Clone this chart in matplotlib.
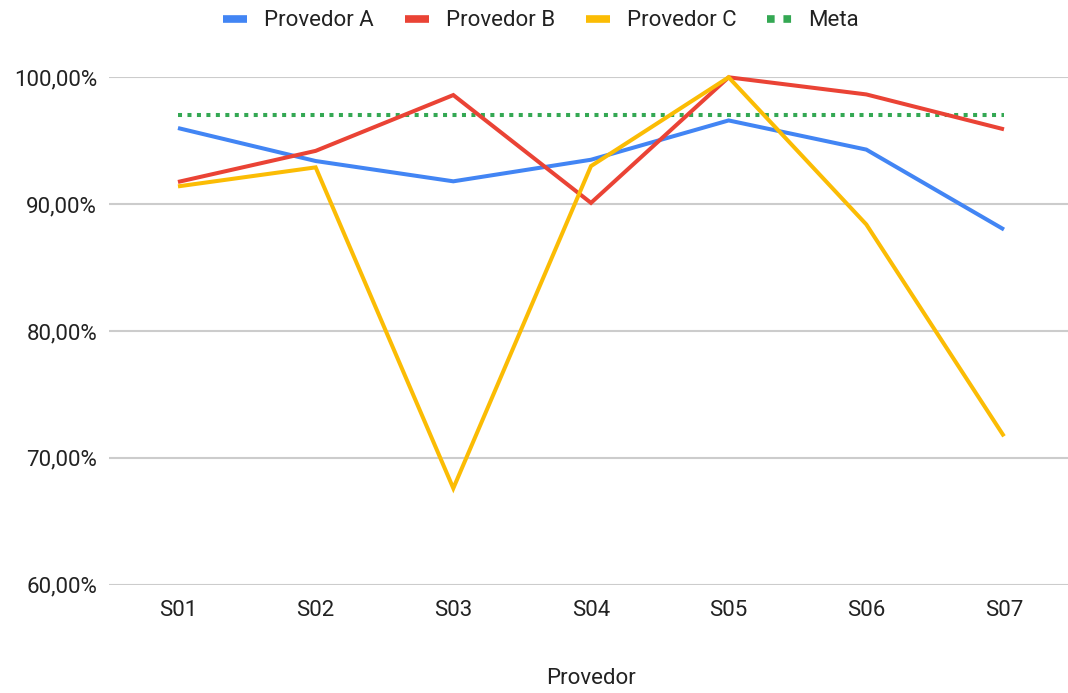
import matplotlib
matplotlib.use("Agg")
import matplotlib.pyplot as plt
from matplotlib.lines import Line2D
from matplotlib.ticker import FuncFormatter, FixedLocator

plt.rcParams["font.family"] = ["Roboto", "DejaVu Sans"]

# Data (percent)
semanas = ["S01", "S02", "S03", "S04", "S05", "S06", "S07"]
provedor_a = [96.0, 93.4, 91.8, 93.5, 96.6, 94.3, 88.0]
provedor_b = [91.75, 94.2, 98.6, 90.1, 100.0, 98.65, 95.9]
provedor_c = [91.4, 92.9, 67.6, 93.0, 100.0, 88.4, 71.7]
meta = [97.0, 97.0, 97.0, 97.0, 97.0, 97.0, 97.0]
y_ticks = [60, 70, 80, 90, 100]

series = [
    ("Provedor A", provedor_a, "#4285F4"),
    ("Provedor B", provedor_b, "#EA4335"),
    ("Provedor C", provedor_c, "#FBBC04"),
]
meta_color = "#34A853"
text_color = "#222222"

fig = plt.figure(figsize=(10.68, 6.93), dpi=100)
ax = fig.add_axes([109 / 1068, 1 - 584.7 / 693, 959 / 1068, 507.4 / 693])

x = list(range(len(semanas)))

# Target line
ax.plot(x, meta, color=meta_color, lw=2.9, linestyle=(0, (1, 1.35)),
        dash_capstyle="butt", clip_on=False, zorder=2)

for nome, valores, cor in series:
    ax.plot(x, valores, color=cor, lw=2.9, solid_joinstyle="miter",
            solid_capstyle="butt", clip_on=False, zorder=3)

ax.set_ylim(60, 100)
ax.set_xlim(-0.501, 6.465)
ax.yaxis.set_major_locator(FixedLocator(y_ticks))
ax.yaxis.set_major_formatter(FuncFormatter(lambda v, p: f"{v:.2f}".replace(".", ",") + "%"))
ax.set_xticks(x)
ax.set_xticklabels(semanas)

ax.grid(axis="y", color="#cccccc", lw=1.5)
ax.set_axisbelow(True)
for s in ax.spines.values():
    s.set_visible(False)
ax.tick_params(axis="both", length=0, labelsize=16, labelcolor=text_color)
ax.tick_params(axis="y", pad=8.6)
ax.tick_params(axis="x", pad=11)

ax.set_xlabel("Provedor", fontsize=16, color=text_color)
ax.xaxis.set_label_coords((591 - 109) / 959, -(678 - 584.7) / 507.4)
ax.xaxis.label.set_va("center")

handles = [Line2D([], [], color=c, lw=5.5, solid_capstyle="butt") for _, _, c in series]
handles.append(Line2D([], [], color=meta_color, lw=5.5, linestyle=(0, (1, 1.15)),
                      dash_capstyle="butt"))
labels = [n for n, _, _ in series] + ["Meta"]
leg = fig.legend(handles, labels, loc="center", bbox_to_anchor=(541 / 1068, 1 - 21 / 693),
                 ncol=4, frameon=False, fontsize=16, handlelength=1.1,
                 handletextpad=0.74, columnspacing=1.4, borderpad=0, borderaxespad=0)
for t in leg.get_texts():
    t.set_color(text_color)

fig.savefig("out.png", dpi=100, facecolor="white")
